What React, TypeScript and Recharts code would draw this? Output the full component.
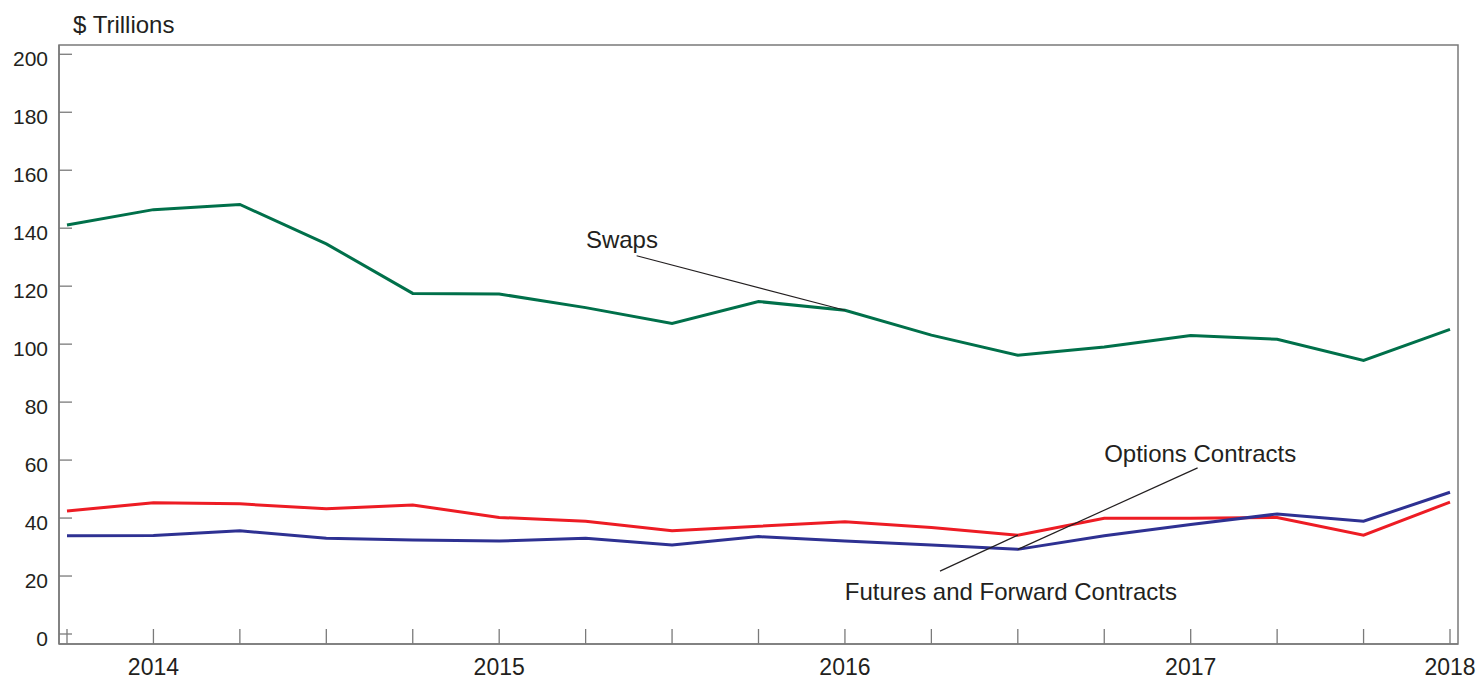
import { LineChart, Line, XAxis, YAxis, ReferenceLine, ReferenceDot, ReferenceArea } from 'recharts';

// quarterly notional amounts, $ trillions
const quarters = [
  '2013Q4', '2014Q1', '2014Q2', '2014Q3', '2014Q4', '2015Q1', '2015Q2', '2015Q3', '2015Q4',
  '2016Q1', '2016Q2', '2016Q3', '2016Q4', '2017Q1', '2017Q2', '2017Q3', '2017Q4',
];
const tickLabels = ['', '2014', '', '', '', '2015', '', '', '', '2016', '', '', '', '2017', '', '', '2018'];

const swaps = [141.1, 146.4, 148.2, 134.6, 117.5, 117.3, 112.6, 107.1, 114.7, 111.7, 103.1, 96.2, 99.0, 103.0, 101.7, 94.4, 105.1];
const futures = [42.4, 45.3, 44.9, 43.2, 44.5, 40.2, 38.9, 35.6, 37.2, 38.7, 36.7, 34.1, 39.9, 39.9, 40.2, 34.1, 45.5];
const options = [33.9, 34.0, 35.6, 33.0, 32.4, 32.1, 33.0, 30.7, 33.6, 32.1, 30.7, 29.2, 33.9, 37.8, 41.4, 38.9, 48.9];

const yTicks = [0, 20, 40, 60, 80, 100, 120, 140, 160, 180, 200];

const data = quarters.map((q, i) => ({
  i,
  q,
  swaps: swaps[i],
  futures: futures[i],
  options: options[i],
}));

const X_DOMAIN: [number, number] = [-0.0925, 16.0925];
const Y_DOMAIN: [number, number] = [-3.45, 203.2];

const TEXT = '#231f20';
const AXIS = '#7a7a7a';

const XTick = (props: any) => {
  const { x, y, payload } = props;
  return (
    <g>
      <line x1={x} x2={x} y1={y} y2={y - 15} stroke={AXIS} strokeWidth={1.3} />
      <text x={x} y={y + 31} textAnchor="middle" fill={TEXT} fontSize={23}>
        {tickLabels[payload.value]}
      </text>
    </g>
  );
};

const YTick = (props: any) => {
  const { x, y, payload } = props;
  return (
    <g>
      <line x1={x} x2={x + 13} y1={y} y2={y} stroke={AXIS} strokeWidth={1.3} />
      <text x={x - 11} y={y + 12} textAnchor="end" fill={TEXT} fontSize={21}>
        {payload.value}
      </text>
    </g>
  );
};

const note = (value: string) => ({ value, position: 'center' as const, fill: TEXT, fontSize: 24 });

export default function App() {
  return (
    <div style={{ position: 'absolute', left: 0, top: 0, fontFamily: '"Liberation Sans", Arial, sans-serif', background: '#fff' }}>
      <LineChart width={1477} height={681} data={data} margin={{ top: 45, right: 19, bottom: 0, left: 0 }}>
        <XAxis
          dataKey="i"
          type="number"
          domain={X_DOMAIN}
          ticks={quarters.map((_, i) => i)}
          interval={0}
          height={37}
          tickSize={0}
          tickMargin={0}
          tickLine={false}
          tick={XTick}
          stroke={AXIS}
          strokeWidth={1.5}
          allowDataOverflow
        />
        <YAxis
          type="number"
          domain={Y_DOMAIN}
          ticks={yTicks}
          interval={0}
          width={59}
          tickSize={0}
          tickMargin={0}
          tickLine={false}
          tick={YTick}
          stroke={AXIS}
          strokeWidth={1.5}
          allowDataOverflow
        />

        {/* plot frame */}
        <ReferenceArea x1={X_DOMAIN[0]} x2={X_DOMAIN[1]} y1={Y_DOMAIN[0]} y2={Y_DOMAIN[1]} fill="none" fillOpacity={0} stroke={AXIS} strokeWidth={1.5} ifOverflow="visible" />

        <Line dataKey="swaps" stroke="#00704a" strokeWidth={3} dot={false} isAnimationActive={false} />
        <Line dataKey="futures" stroke="#ed1c24" strokeWidth={3} dot={false} isAnimationActive={false} />
        <Line dataKey="options" stroke="#2e3192" strokeWidth={3} dot={false} isAnimationActive={false} />

        <ReferenceLine segment={[{ x: 6.59, y: 130.5 }, { x: 9, y: swaps[9] }]} stroke={TEXT} strokeWidth={1.2} ifOverflow="visible" />
        <ReferenceLine segment={[{ x: 13.08, y: 57.3 }, { x: 11, y: options[11] }]} stroke={TEXT} strokeWidth={1.2} ifOverflow="visible" />
        <ReferenceLine segment={[{ x: 10.1, y: 21.7 }, { x: 11, y: futures[11] }]} stroke={TEXT} strokeWidth={1.2} ifOverflow="visible" />

        <ReferenceDot x={6.42} y={136.1} r={0} fill="none" stroke="none" ifOverflow="visible" label={note('Swaps')} />
        <ReferenceDot x={13.11} y={62.3} r={0} fill="none" stroke="none" ifOverflow="visible" label={note('Options Contracts')} />
        <ReferenceDot x={10.92} y={14.5} r={0} fill="none" stroke="none" ifOverflow="visible" label={note('Futures and Forward Contracts')} />
        <ReferenceDot x={0.657} y={210.3} r={0} fill="none" stroke="none" ifOverflow="visible" label={note('$ Trillions')} />
      </LineChart>
    </div>
  );
}
